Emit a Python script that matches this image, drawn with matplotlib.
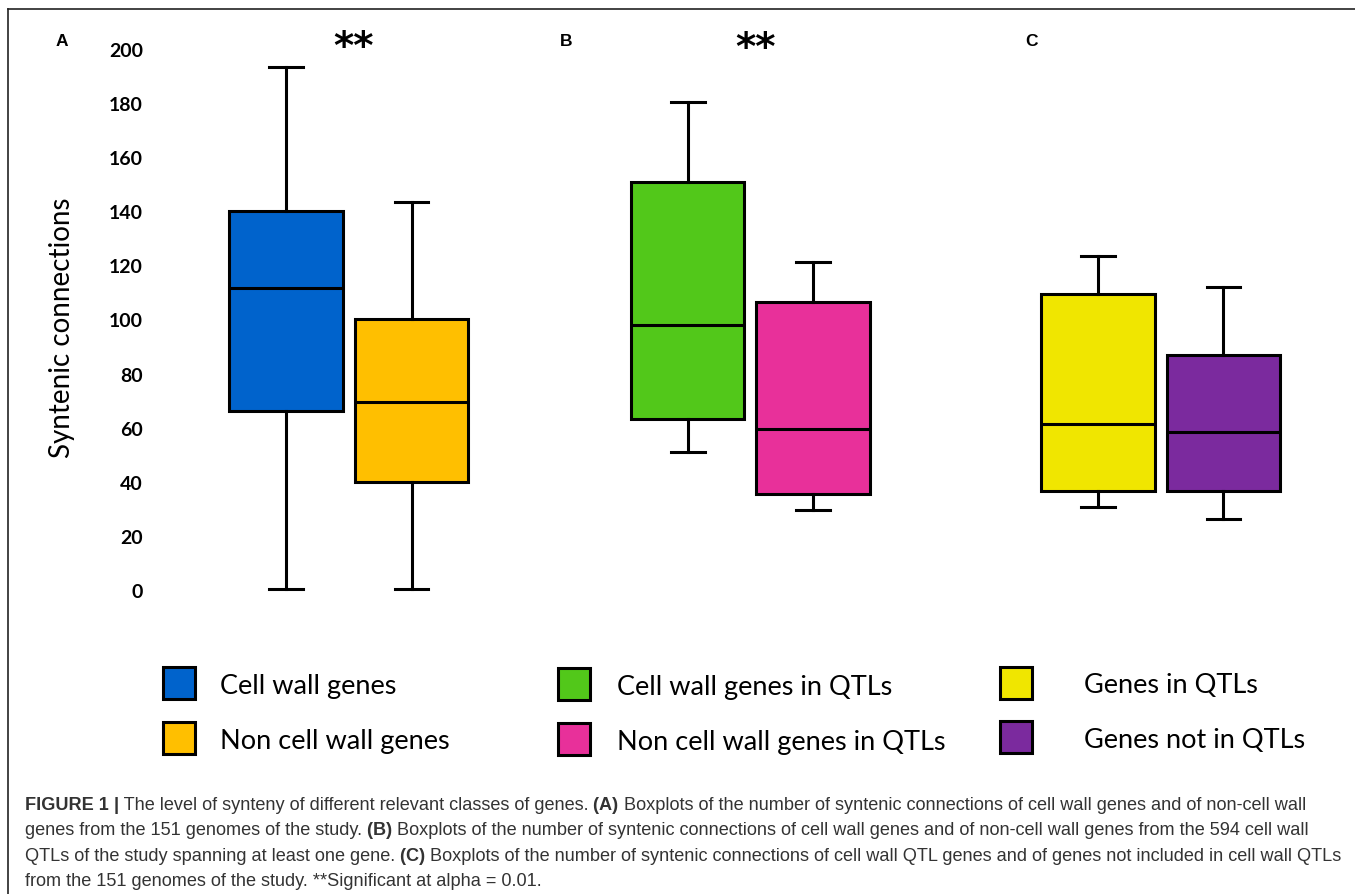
import matplotlib
matplotlib.use("Agg")
import matplotlib.pyplot as plt
from matplotlib.patches import Rectangle
from matplotlib.lines import Line2D
from matplotlib import font_manager

# ---------------- data ----------------
groups = ["Cell wall genes", "Non cell wall genes",
          "Cell wall genes in QTLs", "Non cell wall genes in QTLs",
          "Genes in QTLs", "Genes not in QTLs"]
whisker_low = [0.3, 0.2, 50.9, 29.6, 30.6, 26.2]
q1 = [66.1, 39.8, 63.2, 35.5, 36.5, 36.7]
median = [111.6, 69.4, 98.0, 59.5, 61.3, 58.5]
q3 = [140.0, 100.2, 150.7, 106.4, 109.4, 86.9]
whisker_high = [193.5, 143.4, 180.3, 121.4, 123.4, 112.1]
colors = ["#0063CC", "#FFBF00", "#52C81A", "#E8309A", "#F0E600", "#7B2A9E"]
panel_labels = ["A", "B", "C"]
significance = ["**", "**", ""]
y_ticks = list(range(0, 201, 20))
y_label = "Syntenic connections"
caption_lines = [
    [("FIGURE 1", "bold"), (" |", "bold"),
     (" The level of synteny of different relevant classes of genes.", "normal"),
     (" (A)", "bold"),
     (" Boxplots of the number of syntenic connections of cell wall genes and of non-cell wall", "normal")],
    [("genes from the 151 genomes of the study.", "normal"), (" (B)", "bold"),
     (" Boxplots of the number of syntenic connections of cell wall genes and of non-cell wall genes from the 594 cell wall", "normal")],
    [("QTLs of the study spanning at least one gene.", "normal"), (" (C)", "bold"),
     (" Boxplots of the number of syntenic connections of cell wall QTL genes and of genes not included in cell wall QTLs", "normal")],
    [("from the 151 genomes of the study. **Significant at alpha = 0.01.", "normal")],
]

# ---------------- fonts ----------------
def have(name):
    try:
        font_manager.findfont(font_manager.FontProperties(family=name), fallback_to_default=False)
        return True
    except Exception:
        return False

LEG_FONT = "Lato" if have("Lato") else "DejaVu Sans"
SANS = "Liberation Sans" if have("Liberation Sans") else "DejaVu Sans"
CAP_FONT = "Liberation Sans Narrow" if have("Liberation Sans Narrow") else SANS

W, H = 1355, 895
fig = plt.figure(figsize=(W / 100, H / 100), dpi=100)
fig.patch.set_facecolor("white")


def px(x, y):
    return (x / W, 1 - y / H)

# ---------------- main axes ----------------
unit = 125.5
ax_left, ax_right = 150, 1330
y0_px, ppu = 591.0, 2.705
ymin, ymax = -5, 205
ax = fig.add_axes([ax_left / W, 1 - (y0_px - ppu * ymin) / H,
                   (ax_right - ax_left) / W, (ppu * (ymax - ymin)) / H])
positions = [1, 2, 4.2, 5.2, 7.47, 8.47]
xmin = 1 - (286 - ax_left) / unit
ax.set_xlim(xmin, xmin + (ax_right - ax_left) / unit)
ax.set_ylim(ymin, ymax)

stats = []
for i, g in enumerate(groups):
    stats.append(dict(label=g, whislo=whisker_low[i], q1=q1[i], med=median[i],
                      q3=q3[i], whishi=whisker_high[i], fliers=[]))

lw = 2.2
bp = ax.bxp(stats, positions=positions, widths=0.905, patch_artist=True,
            showfliers=False, capwidths=0.27,
            boxprops=dict(linewidth=lw, edgecolor="black"),
            whiskerprops=dict(linewidth=lw, color="black"),
            capprops=dict(linewidth=lw, color="black"),
            medianprops=dict(linewidth=lw, color="black"))
for patch, c in zip(bp["boxes"], colors):
    patch.set_facecolor(c)
for art in bp["caps"] + bp["whiskers"] + bp["medians"] + bp["boxes"]:
    art.set_clip_on(False)

for s in ax.spines.values():
    s.set_visible(False)
ax.set_xticks([])
ax.set_yticks(y_ticks)
ax.set_yticklabels([str(t) for t in y_ticks], fontsize=14, fontweight="bold",
                   family=LEG_FONT)
ax.tick_params(axis="y", length=0, pad=5)
ax.patch.set_alpha(0)

fig.text(*px(62, 328), y_label, rotation=90, ha="center", va="center",
         fontsize=20, family=LEG_FONT)

# panel labels and significance marks
for lab, (x, y) in zip(panel_labels, [(62, 41), (566, 41), (1031, 41)]):
    fig.text(*px(x, y), lab, ha="center", va="center", fontsize=12.5,
             fontweight="bold", family=SANS)
for sig, (x, y) in zip(significance, [(354, 59), (756, 60), (0, 0)]):
    if sig:
        fig.text(*px(x, y), sig, ha="center", va="baseline", fontsize=28,
                 fontweight="bold", family="DejaVu Sans")

# ---------------- legend ----------------
sq = [(163, 668), (163, 723), (558, 669), (558, 724), (1000, 668), (1000, 722)]
txt_x = [220, 220, 617, 617, 1084, 1084]
txt_base = [694, 749, 695, 750, 693, 748]
for i, g in enumerate(groups):
    x, y = sq[i]
    fig.add_artist(Rectangle((x / W, 1 - (y + 32) / H), 32 / W, 32 / H,
                             transform=fig.transFigure, facecolor=colors[i],
                             edgecolor="black", linewidth=2.2))
    fig.text(*px(txt_x[i], txt_base[i]), g, ha="left", va="baseline",
             fontsize=19.5, family=LEG_FONT, color="black")

# ---------------- frame ----------------
fig.add_artist(Line2D([8 / W, 1], [1 - 10 / H, 1 - 10 / H], transform=fig.transFigure,
                      color="#222222", linewidth=1.2))
fig.add_artist(Line2D([8 / W, 8 / W], [1 - 10 / H, 0], transform=fig.transFigure,
                      color="#222222", linewidth=1.2))

# ---------------- caption ----------------
renderer = fig.canvas.get_renderer()


def draw_segments(segments, x0, ybase, size, draw=True):
    x = x0
    for text, weight in segments:
        t = fig.text(*px(x, ybase), text, ha="left", va="baseline", fontsize=size,
                     fontweight=weight, family=CAP_FONT, color="#333333")
        bb = t.get_window_extent(renderer)
        x = bb.x1
        if not draw:
            t.remove()
    return x

# fit caption size so that line 3 spans 25 -> 1339 px
size = 11.0
end = draw_segments(caption_lines[2], 25, 0, size, draw=False)
size = size * (1339 - 25) / (end - 25)

for k, segs in enumerate(caption_lines):
    draw_segments(segs, 25, 810 + 25.5 * k, size)

fig.savefig("out.png", dpi=100, facecolor="white")
